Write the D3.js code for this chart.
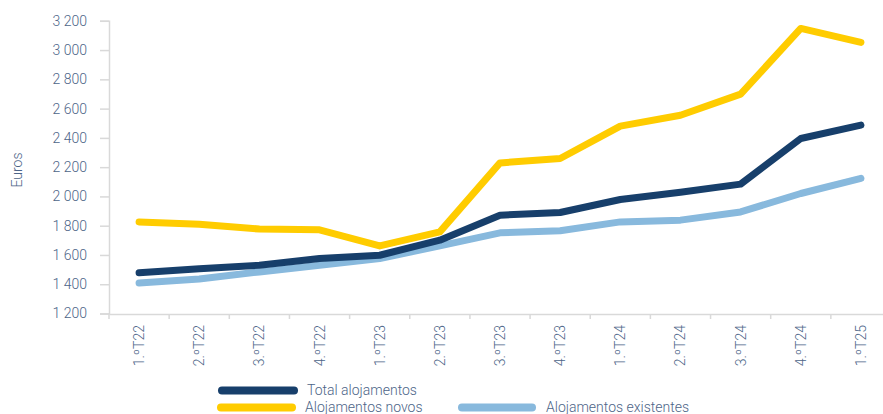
<!DOCTYPE html>
<html>
<head>
<meta charset="utf-8">
<script src="https://cdn.jsdelivr.net/npm/d3@7"></script>
<style>
  html, body { margin: 0; padding: 0; background: #fff; }
  svg { display: block; font-family: Roboto, "Noto Sans", sans-serif; }
</style>
</head>
<body>
<svg id="chart" width="883" height="414"></svg>
<script>
const categories = ["1.ºT22","2.ºT22","3.ºT22","4.ºT22","1.ºT23","2.ºT23","3.ºT23","4.ºT23","1.ºT24","2.ºT24","3.ºT24","4.ºT24","1.ºT25"];
const totalAlojamentos = [1478, 1505, 1530, 1576, 1598, 1701, 1872, 1890, 1979, 2029, 2084, 2396, 2487];
const alojamentosNovos = [1826, 1810, 1777, 1772, 1662, 1758, 2229, 2259, 2480, 2555, 2699, 3148, 3052];
const alojamentosExistentes = [1409, 1436, 1484, 1530, 1576, 1662, 1751, 1765, 1826, 1838, 1894, 2020, 2123];
const yTicks = [1200, 1400, 1600, 1800, 2000, 2200, 2400, 2600, 2800, 3000, 3200];
const seriesNames = ["Total alojamentos", "Alojamentos novos", "Alojamentos existentes"];
const seriesColors = ["#173f6b", "#ffcc00", "#88b9dd"];

const svg = d3.select("#chart");
const textColor = "#4d6588";
const axisColor = "#d9d9d9";

const x = d3.scaleBand().domain(categories).range([109, 891]);
const y = d3.scaleLinear().domain([1200, 3200]).range([313.5, 20.8]);

const loc = d3.formatLocale({decimal: ",", thousands: "\u00a0", grouping: [3], currency: ["", "€"]});
const fmt = loc.format(",d");

// Y axis
const yAxis = svg.append("g").attr("transform", "translate(109,0)")
  .call(d3.axisLeft(y).tickValues(yTicks).tickFormat(fmt).tickSize(9).tickPadding(13));
yAxis.select(".domain").attr("stroke", axisColor).attr("stroke-width", 1.5);
yAxis.selectAll(".tick line").attr("stroke", axisColor).attr("stroke-width", 1.5);
yAxis.selectAll(".tick text").attr("fill", textColor).attr("font-size", 14).attr("font-family", "Roboto").attr("font-weight", 300);

// X axis
const xAxis = svg.append("g").attr("transform", "translate(0,314)")
  .call(d3.axisBottom(x).tickSize(0).tickFormat(""));
xAxis.select(".domain").attr("stroke", axisColor).attr("stroke-width", 1.5);
// boundary ticks
const bounds = categories.map((c) => x(c)).concat([x(categories[categories.length - 1]) + x.bandwidth()]);
svg.append("g").selectAll("line").data(bounds).join("line")
  .attr("x1", d => d).attr("x2", d => d).attr("y1", 314).attr("y2", 319)
  .attr("stroke", axisColor).attr("stroke-width", 1.5);
svg.append("g").selectAll("text").data(categories).join("text")
  .attr("transform", d => `translate(${x(d) + x.bandwidth() / 2 + 5},325) rotate(-90)`)
  .attr("text-anchor", "end")
  .attr("fill", textColor).attr("font-size", 14).attr("font-weight", 300)
  .text(d => d);

// Y label
svg.append("text")
  .attr("transform", "translate(22,170) rotate(-90)")
  .attr("text-anchor", "middle")
  .attr("fill", textColor).attr("font-size", 14).attr("font-weight", 300)
  .text("Euros");

// Lines
const line = d3.line().x((d, i) => x(categories[i]) + x.bandwidth() / 2).y(d => y(d));
const seriesData = [alojamentosExistentes, totalAlojamentos, alojamentosNovos];
const seriesOrderColors = [seriesColors[2], seriesColors[0], seriesColors[1]];
seriesData.forEach((s, k) => {
  svg.append("path").datum(s)
    .attr("d", line)
    .attr("fill", "none")
    .attr("stroke", seriesOrderColors[k])
    .attr("stroke-width", 7)
    .attr("stroke-linecap", "round")
    .attr("stroke-linejoin", "round");
});

// Legend
const legendItems = [
  {name: seriesNames[0], color: seriesColors[0], x1: 222, x2: 294, y: 390.5, tx: 307},
  {name: seriesNames[1], color: seriesColors[1], x1: 221, x2: 292, y: 407.5, tx: 305},
  {name: seriesNames[2], color: seriesColors[2], x1: 462, x2: 532, y: 407.5, tx: 546}
];
const lg = svg.append("g");
legendItems.forEach(it => {
  lg.append("line").attr("x1", it.x1).attr("x2", it.x2).attr("y1", it.y).attr("y2", it.y)
    .attr("stroke", it.color).attr("stroke-width", 8).attr("stroke-linecap", "round");
  lg.append("text").attr("x", it.tx).attr("y", it.y).attr("dy", "0.35em")
    .attr("fill", textColor).attr("font-size", 14).attr("font-weight", 300)
    .text(it.name);
});
</script>
</body>
</html>
